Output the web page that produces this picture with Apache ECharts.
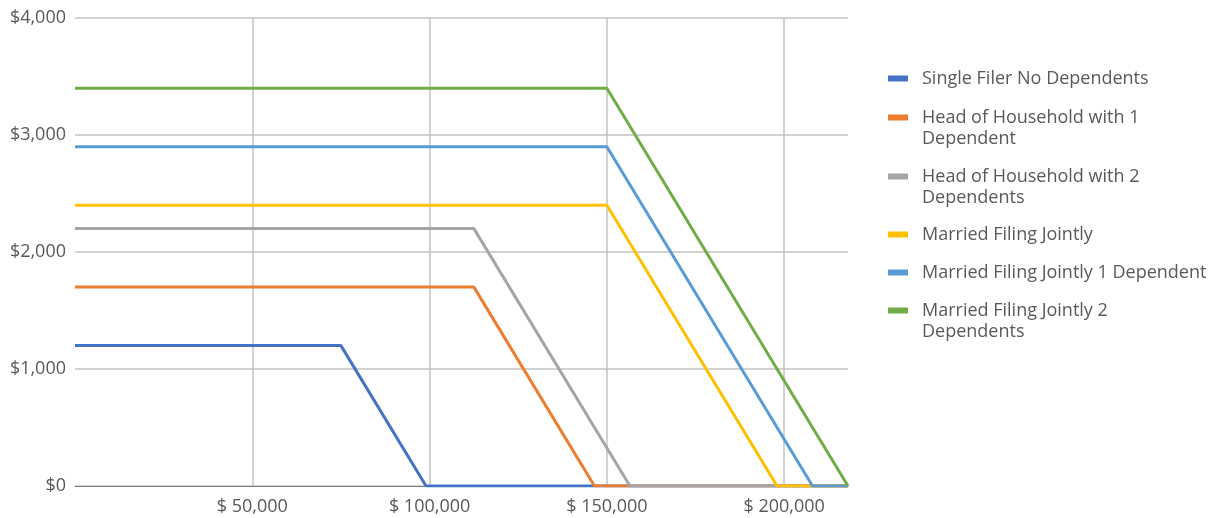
<!DOCTYPE html>
<html><head><meta charset="utf-8">
<script src="https://cdn.jsdelivr.net/npm/echarts@6/dist/echarts.min.js"></script>
<style>html,body{margin:0;padding:0;background:#fff}#c{width:1221px;height:518px}</style>
</head><body><div id="c"></div>
<script>
// Data
const seriesNames = ["Single Filer No Dependents","Head of Household with 1 Dependent","Head of Household with 2 Dependents","Married Filing Jointly","Married Filing Jointly 1 Dependent","Married Filing Jointly 2 Dependents"];
const legendLabels = ["Single Filer No Dependents","Head of Household with 1\nDependent","Head of Household with 2\nDependents","Married Filing Jointly","Married Filing Jointly 1 Dependent","Married Filing Jointly 2\nDependents"];
const singleX = [0, 75000, 99000, 218000];
const singleY = [1200, 1200, 0, 0];
const hoh1X = [0, 112500, 146500, 218000];
const hoh1Y = [1700, 1700, 0, 0];
const hoh2X = [0, 112500, 156500, 218000];
const hoh2Y = [2200, 2200, 0, 0];
const mfjX = [0, 150000, 198000, 218000];
const mfjY = [2400, 2400, 0, 0];
const mfj1X = [0, 150000, 208000, 218000];
const mfj1Y = [2900, 2900, 0, 0];
const mfj2X = [0, 150000, 218000];
const mfj2Y = [3400, 3400, 0];
const colors = ["#4472C4","#ED7D31","#A5A5A5","#FFC000","#5B9BD5","#70AD47"];
const legendCenters = [78, 117, 176, 234, 272, 310];

const xs = [singleX, hoh1X, hoh2X, mfjX, mfj1X, mfj2X];
const ys = [singleY, hoh1Y, hoh2Y, mfjY, mfj1Y, mfj2Y];
const FONT = "Open Sans";
const TXT = "#595959";
const FS = 18;
const LH = 21;
const fmt = v => v.toString().replace(/\B(?=(\d{3})+(?!\d))/g, ",");

const series = seriesNames.map((n, i) => ({
  name: n, type: 'line', showSymbol: false, symbol: 'none',
  lineStyle: {width: 3, color: colors[i]}, itemStyle: {color: colors[i]},
  data: xs[i].map((x, j) => [x, ys[i][j]]), animation: false
}));

const legends = seriesNames.map((n, i) => {
  const lbl = legendLabels[i];
  const multi = lbl.indexOf('\n') >= 0;
  return {
    orient: 'vertical', left: 888, top: Math.round(legendCenters[i] - (multi ? LH * 1.5 : LH / 2)),
    padding: 0, data: [{name: n, icon: 'rect'}], itemWidth: 20, itemHeight: 6,
    formatter: () => multi ? '\n' + lbl : lbl,
    textStyle: {fontFamily: FONT, fontSize: FS, color: TXT, lineHeight: LH, padding: [0,0,0,9]},
    selectedMode: false
  };
});

const chart = echarts.init(document.getElementById('c'), null, {renderer: 'canvas'});
chart.setOption({
  animation: false,
  color: colors,
  grid: {left: 75, right: 373, top: 18, bottom: 32, containLabel: false},
  legend: legends,
  xAxis: {
    type: 'value', min: 0, max: 218000, interval: 50000,
    axisLine: {show: true, lineStyle: {color: '#7f7f7f', width: 1}},
    axisTick: {show: false},
    axisLabel: {showMinLabel: false, showMaxLabel: false, margin: 12, color: TXT, fontFamily: FONT, fontSize: FS,
      formatter: v => '$ ' + fmt(v)},
    splitLine: {show: true, showMinLine: false, showMaxLine: false, lineStyle: {color: '#c3c3c3', width: 1.5}}
  },
  yAxis: {
    type: 'value', min: 0, max: 4000, interval: 1000,
    axisLine: {show: false}, axisTick: {show: false},
    axisLabel: {margin: 9, color: TXT, fontFamily: FONT, fontSize: FS, formatter: v => '$' + fmt(v)},
    splitLine: {show: true, lineStyle: {color: '#c3c3c3', width: 1.5}}
  },
  series: series
});
</script></body></html>
